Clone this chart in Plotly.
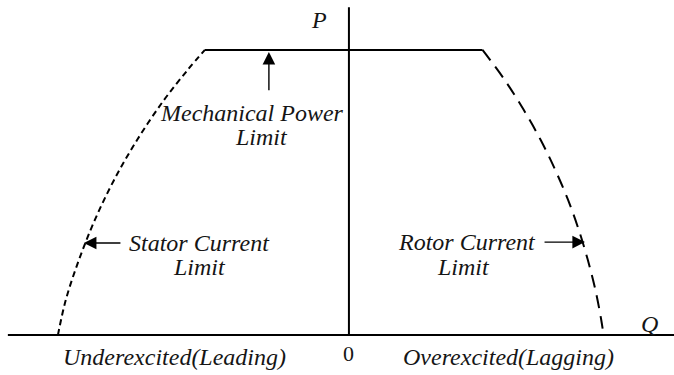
import plotly.graph_objects as go

# Capability curve of a synchronous generator (per-unit P vs Q)
stator_q = [-1.000, -0.973, -0.928, -0.873, -0.807, -0.728, -0.635, -0.554, -0.495]
stator_p = [0.000, 0.123, 0.263, 0.404, 0.544, 0.684, 0.825, 0.930, 1.000]

rotor_q = [0.459, 0.535, 0.601, 0.659, 0.709, 0.753, 0.790, 0.821, 0.847, 0.867, 0.875]
rotor_p = [1.000, 0.895, 0.789, 0.684, 0.579, 0.474, 0.368, 0.263, 0.158, 0.053, 0.000]

mech_q = [-0.495, 0.459]
mech_p = [1.000, 1.000]

q_axis = [-1.172, 1.117]
p_axis = [0.0, 1.150]

fig = go.Figure()

# axes drawn as lines through the origin
fig.add_trace(go.Scatter(x=q_axis, y=[0, 0], mode="lines",
                         line=dict(color="black", width=2), hoverinfo="skip"))
fig.add_trace(go.Scatter(x=[0, 0], y=p_axis, mode="lines",
                         line=dict(color="black", width=2), hoverinfo="skip"))

# mechanical power limit
fig.add_trace(go.Scatter(x=mech_q, y=mech_p, mode="lines",
                         line=dict(color="black", width=2), hoverinfo="skip"))
# stator current limit
fig.add_trace(go.Scatter(x=stator_q, y=stator_p, mode="lines", line_shape="spline",
                         line=dict(color="black", width=2, dash="6px,4px"), hoverinfo="skip"))
# rotor current limit
fig.add_trace(go.Scatter(x=rotor_q, y=rotor_p, mode="lines", line_shape="spline",
                         line=dict(color="black", width=2, dash="13px,8px"), hoverinfo="skip"))

serif = dict(family="Liberation Serif", size=24, color="#151515")
serif_i = dict(serif, style="italic")

labels = [
    ("P", -0.103, 1.105),
    ("Q", 1.034, 0.040),
    ("Mechanical Power", -0.333, 0.779),
    ("Limit", -0.299, 0.695),
    ("Stator Current", -0.512, 0.323),
    ("Limit", -0.512, 0.239),
    ("Rotor Current", 0.405, 0.326),
    ("Limit", 0.395, 0.239),
    ("Underexcited(Leading)", -0.601, -0.077),
    ("Overexcited(Lagging)", 0.550, -0.077),
]
for text, x, y in labels:
    fig.add_annotation(x=x, y=y, text=text, showarrow=False, font=serif_i,
                       xanchor="center", yanchor="middle")
fig.add_annotation(x=0, y=-0.063, text="0", showarrow=False,
                   font=dict(serif, size=22), xanchor="center", yanchor="middle")

# pointer arrows: (tip_q, tip_p, tail_q, tail_p)
arrows = [
    (-0.275, 0.993, -0.275, 0.853),
    (-0.911, 0.323, -0.780, 0.323),
    (0.811, 0.326, 0.667, 0.326),
]
for tx, ty, sx, sy in arrows:
    fig.add_annotation(x=tx, y=ty, ax=sx, ay=sy, xref="x", yref="y",
                       axref="x", ayref="y", text="", showarrow=True,
                       arrowhead=2, arrowsize=1.8, arrowwidth=1.4, arrowcolor="black")

fig.update_layout(
    width=674, height=375,
    margin=dict(l=0, r=0, t=0, b=0),
    paper_bgcolor="white", plot_bgcolor="white",
    showlegend=False,
    xaxis=dict(range=[-1.199, 1.117], visible=False, fixedrange=True),
    yaxis=dict(range=[-0.140, 1.175], visible=False, fixedrange=True),
)

fig.write_html("out.html")
